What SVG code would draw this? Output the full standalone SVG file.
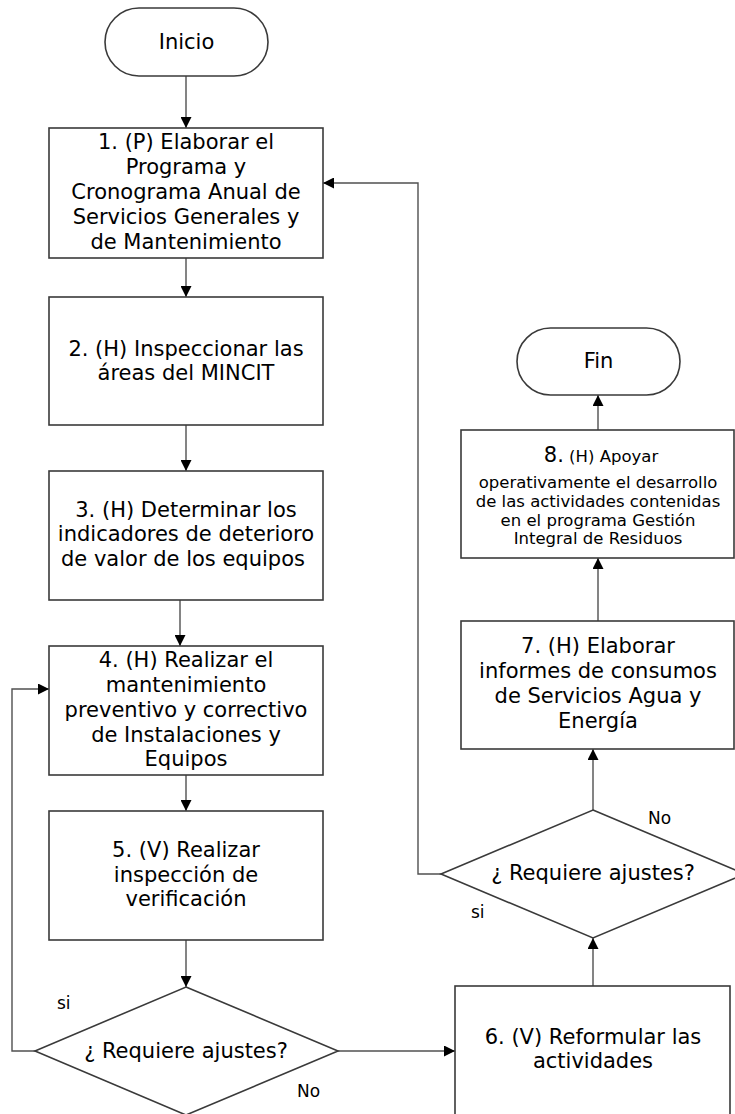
<svg xmlns="http://www.w3.org/2000/svg" width="735" height="1114" viewBox="0 0 735 1114">
<defs>
<marker id="ah" markerUnits="userSpaceOnUse" markerWidth="11" markerHeight="11" refX="11" refY="5.5" orient="auto">
<path d="M0,0 L11,5.5 L0,11 z" fill="#000"/>
</marker>
<style>
.n{fill:#fff;stroke:#3a3a3a;stroke-width:1.6}
.t{font-family:"DejaVu Sans","Verdana",sans-serif;font-size:21px;fill:#000;text-anchor:middle}
.s{font-family:"DejaVu Sans","Verdana",sans-serif;font-size:16.5px;fill:#000;text-anchor:middle}
.l{font-family:"DejaVu Sans","Verdana",sans-serif;font-size:17px;fill:#000}
.c{fill:none;stroke:#505050;stroke-width:1.4}
.ca{fill:none;stroke:#505050;stroke-width:1.4;marker-end:url(#ah)}
</style>
</defs>
<rect width="735" height="1114" fill="#fff"/>
<g id="connectors">
<line class="ca" x1="186" y1="76" x2="186" y2="128"/>
<line class="ca" x1="186" y1="258" x2="186" y2="297"/>
<line class="ca" x1="186" y1="425" x2="186" y2="471"/>
<line class="ca" x1="180" y1="600" x2="180" y2="646"/>
<line class="ca" x1="186" y1="775" x2="186" y2="811"/>
<line class="ca" x1="186" y1="940" x2="186" y2="987"/>
<polyline class="ca" points="35,1051 12,1051 12,689 49,689"/>
<line class="ca" x1="338" y1="1051" x2="455" y2="1051"/>
<line class="ca" x1="593" y1="986" x2="593" y2="938"/>
<polyline class="ca" points="441,874 418,874 418,183 323,183"/>
<line class="ca" x1="593" y1="810" x2="593" y2="749"/>
<line class="ca" x1="598" y1="621" x2="598" y2="558"/>
<line class="ca" x1="598" y1="430" x2="598" y2="395"/>
<text class="l" x="57" y="1009">si</text>
<text class="l" x="297" y="1097">No</text>
<text class="l" x="648" y="824">No</text>
<text class="l" x="471" y="918">si</text>
</g>
<g id="inicio">
<rect class="n" x="105" y="8" width="163" height="68" rx="34" ry="34"/>
<text class="t" x="186.5" y="49">Inicio</text>
</g>
<g id="box1">
<rect class="n" x="49" y="128" width="274" height="130"/>
<text class="t" x="186" y="149">1. (P) Elaborar el</text>
<text class="t" x="186" y="174">Programa y</text>
<text class="t" x="186" y="199">Cronograma Anual de</text>
<text class="t" x="186" y="224">Servicios Generales y</text>
<text class="t" x="186" y="249">de Mantenimiento</text>
</g>
<g id="box2">
<rect class="n" x="49" y="297" width="274" height="128"/>
<text class="t" x="186" y="356">2. (H) Inspeccionar las</text>
<text class="t" x="186" y="380">áreas del MINCIT</text>
</g>
<g id="box3">
<rect class="n" x="49" y="471" width="274" height="129"/>
<text class="t" x="186" y="517">3. (H) Determinar los</text>
<text class="t" x="186" y="541">indicadores de deterioro</text>
<text class="t" x="183" y="566">de valor de los equipos</text>
</g>
<g id="box4">
<rect class="n" x="49" y="646" width="274" height="129"/>
<text class="t" x="186" y="667">4. (H) Realizar el</text>
<text class="t" x="186" y="692">mantenimiento</text>
<text class="t" x="186" y="717">preventivo y correctivo</text>
<text class="t" x="186" y="742">de Instalaciones y</text>
<text class="t" x="186" y="766">Equipos</text>
</g>
<g id="box5">
<rect class="n" x="49" y="811" width="274" height="129"/>
<text class="t" x="186" y="857">5. (V) Realizar</text>
<text class="t" x="186" y="882">inspección de</text>
<text class="t" x="186" y="906">verificación</text>
</g>
<g id="decision1">
<polygon class="n" points="186,987 338,1051 186,1115 35,1051"/>
<text class="t" x="186" y="1058">¿ Requiere ajustes?</text>
</g>
<g id="box6">
<rect class="n" x="455" y="986" width="275" height="140"/>
<text class="t" x="593" y="1044">6. (V) Reformular las</text>
<text class="t" x="593" y="1068">actividades</text>
</g>
<g id="decision2">
<polygon class="n" points="593,810 745,874 593,938 441,874"/>
<text class="t" x="593" y="880">¿ Requiere ajustes?</text>
</g>
<g id="box7">
<rect class="n" x="461" y="621" width="273" height="128"/>
<text class="t" x="598" y="653">7. (H) Elaborar</text>
<text class="t" x="598" y="678">informes de consumos</text>
<text class="t" x="598" y="703">de Servicios Agua y</text>
<text class="t" x="598" y="728">Energía</text>
</g>
<g id="box8">
<rect class="n" x="461" y="430" width="273" height="128"/>
<text class="s" x="601" y="462"><tspan font-size="21px">8.</tspan> (H) Apoyar</text>
<text class="s" x="598" y="488">operativamente el desarrollo</text>
<text class="s" x="598" y="507">de las actividades contenidas</text>
<text class="s" x="598" y="525.5">en el programa Gestión</text>
<text class="s" x="598" y="543.5">Integral de Residuos</text>
</g>
<g id="fin">
<rect class="n" x="517" y="328" width="163" height="67" rx="33.5" ry="33.5"/>
<text class="t" x="598.5" y="368">Fin</text>
</g>
</svg>
